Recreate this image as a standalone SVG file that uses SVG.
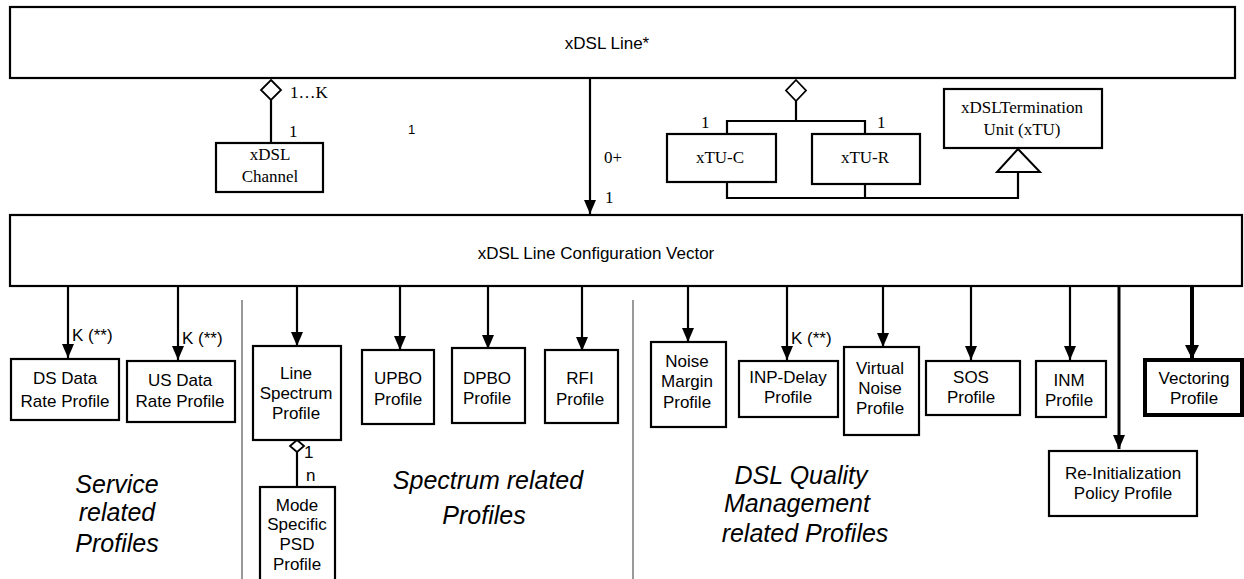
<svg xmlns="http://www.w3.org/2000/svg" width="1244" height="579" viewBox="0 0 1244 579">
<defs>
<style>
.box{fill:#fff;stroke:#000;stroke-width:2.2}
.thick{fill:#fff;stroke:#000;stroke-width:4}
.ln{fill:none;stroke:#000;stroke-width:2.2}
.sep{fill:none;stroke:#999;stroke-width:2}
.s{font-family:"Liberation Sans",Arial,sans-serif;font-size:17px;fill:#000;text-anchor:middle}
.sl{font-family:"Liberation Sans",Arial,sans-serif;font-size:17px;fill:#000}
.t{font-family:"Liberation Serif","Times New Roman",serif;font-size:17px;fill:#000;text-anchor:middle}
.tl{font-family:"Liberation Serif","Times New Roman",serif;font-size:17px;fill:#000}
.it{font-family:"Liberation Sans",Arial,sans-serif;font-size:25px;font-style:italic;fill:#000;text-anchor:middle}
.dia{fill:#fff;stroke:#000;stroke-width:1.8}
</style>
<marker id="ah" viewBox="0 0 14 12" refX="14" refY="6" markerWidth="14" markerHeight="12" markerUnits="userSpaceOnUse" orient="auto"><path d="M0,0 L14,6 L0,12 Z" fill="#000"/></marker>
<marker id="ahb" viewBox="0 0 14 14" refX="14" refY="7" markerWidth="14" markerHeight="14" markerUnits="userSpaceOnUse" orient="auto"><path d="M0,0 L14,7 L0,14 Z" fill="#000"/></marker>
</defs>
<rect width="1244" height="579" fill="#fff"/>

<g id="separators">
<line class="sep" x1="242" y1="300" x2="242" y2="579"/>
<line class="sep" x1="633" y1="300" x2="633" y2="579"/>
</g>

<g id="connectors">
<line class="ln" x1="271" y1="100" x2="271" y2="143"/>
<path class="dia" d="M271,80 L281,90 L271,100 L261,90 Z"/>
<text class="tl" x="290" y="98">1…K</text>
<text class="tl" x="289" y="137">1</text>
<text class="sl" x="408" y="134" style="font-size:13px">1</text>
<line class="ln" x1="590" y1="78" x2="590" y2="214" marker-end="url(#ah)"/>
<text class="tl" x="604" y="163">0+</text>
<text class="tl" x="605" y="203">1</text>
<path class="dia" d="M796,80 L806,90.5 L796,101 L786,90.5 Z"/>
<polyline class="ln" points="796,101 796,121"/>
<polyline class="ln" points="727,134 727,121 865,121 865,134"/>
<text class="tl" x="701" y="128">1</text>
<text class="tl" x="877" y="128">1</text>
<polyline class="ln" points="727,182 727,198 1018,198 1018,172"/>
<line class="ln" x1="865" y1="184" x2="865" y2="198"/>
<path class="dia" d="M1018,149 L1040,172 L997,172 Z" style="stroke-width:2"/>
<line class="ln" x1="68" y1="286" x2="68" y2="358" marker-end="url(#ah)"/>
<text class="sl" x="72" y="341">K (**)</text>
<line class="ln" x1="178" y1="286" x2="178" y2="360" marker-end="url(#ah)"/>
<text class="sl" x="182" y="344">K (**)</text>
<line class="ln" x1="297" y1="286" x2="297" y2="346" marker-end="url(#ah)"/>
<line class="ln" x1="400" y1="286" x2="400" y2="350" marker-end="url(#ah)"/>
<line class="ln" x1="488" y1="286" x2="488" y2="349" marker-end="url(#ah)"/>
<line class="ln" x1="582" y1="286" x2="582" y2="351" marker-end="url(#ah)"/>
<line class="ln" x1="688" y1="286" x2="688" y2="342" marker-end="url(#ah)"/>
<line class="ln" x1="787" y1="286" x2="787" y2="360" marker-end="url(#ah)"/>
<text class="sl" x="791" y="344">K (**)</text>
<line class="ln" x1="883" y1="286" x2="883" y2="347" marker-end="url(#ah)"/>
<line class="ln" x1="971" y1="286" x2="971" y2="360" marker-end="url(#ah)"/>
<line class="ln" x1="1070" y1="286" x2="1070" y2="360" marker-end="url(#ah)"/>
<line class="ln" x1="1119" y1="286" x2="1119" y2="449" marker-end="url(#ah)" style="stroke-width:3"/>
<line class="ln" x1="1192" y1="286" x2="1192" y2="359" marker-end="url(#ahb)" style="stroke-width:4"/>
<line class="ln" x1="297" y1="452" x2="297" y2="487"/>
<path class="dia" d="M297,440 L304,446 L297,452 L290,446 Z"/>
<text class="sl" x="304" y="458">1</text>
<text class="sl" x="306" y="481">n</text>
</g>

<g id="xdsl-line">
<rect class="box" x="10" y="7" width="1225" height="71"/>
<text class="s" x="607" y="49">xDSL Line*</text>
</g>

<g id="xdsl-channel">
<rect class="box" x="216" y="143" width="107" height="49"/>
<text class="t" x="270" y="160">xDSL</text>
<text class="t" x="270" y="182">Channel</text>
</g>

<g id="xtu-c">
<rect class="box" x="667" y="134" width="109" height="48"/>
<text class="t" x="720" y="163">xTU-C</text>
</g>

<g id="xtu-r">
<rect class="box" x="812" y="134" width="108" height="50"/>
<text class="t" x="865" y="163">xTU-R</text>
</g>

<g id="xtu">
<rect class="box" x="944" y="89" width="158" height="59"/>
<text class="t" x="1022" y="113">xDSLTermination</text>
<text class="t" x="1022" y="135">Unit (xTU)</text>
</g>

<g id="config-vector">
<rect class="box" x="10" y="215" width="1232" height="71"/>
<text class="s" x="596" y="259">xDSL Line Configuration Vector</text>
</g>

<g id="ds-data-rate">
<rect class="box" x="11" y="359" width="108" height="61"/>
<text class="s" x="65" y="384">DS Data</text>
<text class="s" x="65" y="407">Rate Profile</text>
</g>

<g id="us-data-rate">
<rect class="box" x="127" y="361" width="108" height="61"/>
<text class="s" x="180" y="386">US Data</text>
<text class="s" x="180" y="407">Rate Profile</text>
</g>

<g id="line-spectrum">
<rect class="box" x="253" y="346" width="88" height="94"/>
<text class="s" x="296" y="379">Line</text>
<text class="s" x="296" y="399">Spectrum</text>
<text class="s" x="296" y="419">Profile</text>
</g>

<g id="mode-specific-psd">
<rect class="box" x="260" y="487" width="75" height="100"/>
<text class="s" x="297" y="511">Mode</text>
<text class="s" x="297" y="530">Specific</text>
<text class="s" x="297" y="550">PSD</text>
<text class="s" x="297" y="570">Profile</text>
</g>

<g id="upbo">
<rect class="box" x="362" y="350" width="72" height="74"/>
<text class="s" x="398" y="384">UPBO</text>
<text class="s" x="398" y="405">Profile</text>
</g>

<g id="dpbo">
<rect class="box" x="452" y="348" width="73" height="75"/>
<text class="s" x="487" y="384">DPBO</text>
<text class="s" x="487" y="404">Profile</text>
</g>

<g id="rfi">
<rect class="box" x="545" y="350" width="73" height="73"/>
<text class="s" x="580" y="384">RFI</text>
<text class="s" x="580" y="405">Profile</text>
</g>

<g id="noise-margin">
<rect class="box" x="651" y="342" width="75" height="85"/>
<text class="s" x="687" y="367">Noise</text>
<text class="s" x="687" y="387">Margin</text>
<text class="s" x="687" y="408">Profile</text>
</g>

<g id="inp-delay">
<rect class="box" x="739" y="361" width="99" height="56"/>
<text class="s" x="788" y="383">INP-Delay</text>
<text class="s" x="788" y="403">Profile</text>
</g>

<g id="virtual-noise">
<rect class="box" x="844" y="347" width="75" height="88"/>
<text class="s" x="880" y="374">Virtual</text>
<text class="s" x="880" y="394">Noise</text>
<text class="s" x="880" y="414">Profile</text>
</g>

<g id="sos">
<rect class="box" x="926" y="361" width="94" height="54"/>
<text class="s" x="971" y="383">SOS</text>
<text class="s" x="971" y="403">Profile</text>
</g>

<g id="inm">
<rect class="box" x="1036" y="361" width="70" height="56"/>
<text class="s" x="1069" y="386">INM</text>
<text class="s" x="1069" y="406">Profile</text>
</g>

<g id="re-init">
<rect class="box" x="1049" y="451" width="148" height="65"/>
<text class="s" x="1123" y="479">Re-Initialization</text>
<text class="s" x="1123" y="499">Policy Profile</text>
</g>

<g id="vectoring">
<rect class="thick" x="1145" y="360" width="97" height="55"/>
<text class="s" x="1194" y="384">Vectoring</text>
<text class="s" x="1194" y="404">Profile</text>
</g>

<g id="group-labels">
<text class="it" x="117" y="493">Service</text>
<text class="it" x="117" y="521">related</text>
<text class="it" x="117" y="552">Profiles</text>
<text class="it" x="488" y="489">Spectrum related</text>
<text class="it" x="484" y="524">Profiles</text>
<text class="it" x="801" y="484">DSL Quality</text>
<text class="it" x="797" y="512">Management</text>
<text class="it" x="805" y="542">related Profiles</text>
</g>
</svg>
